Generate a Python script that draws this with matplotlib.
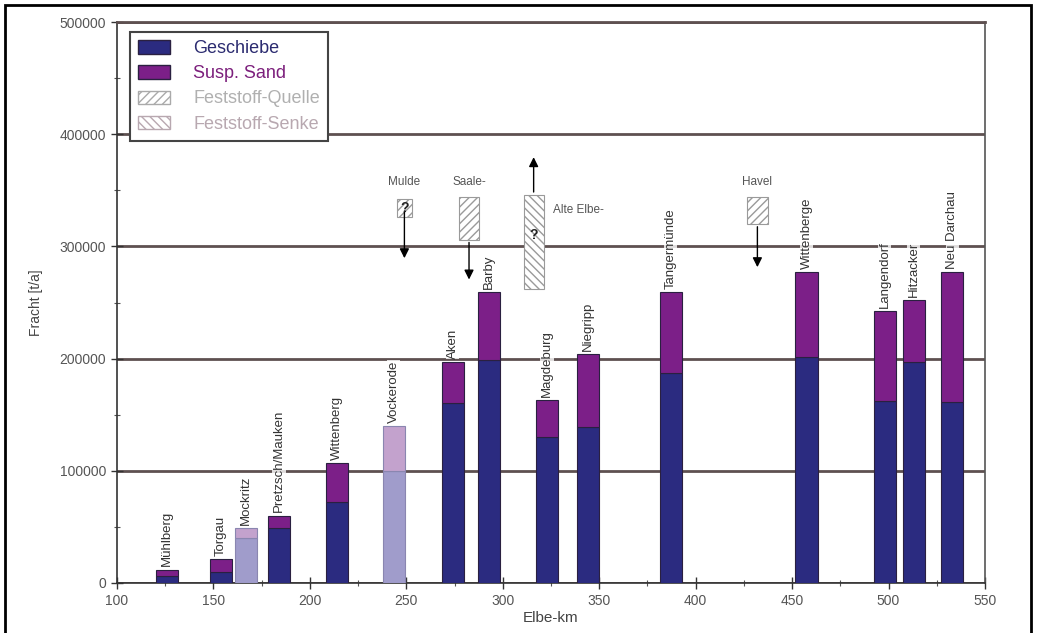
import matplotlib
matplotlib.use('Agg')
import matplotlib.pyplot as plt
from matplotlib.patches import Patch, Rectangle
from matplotlib.ticker import MultipleLocator
import numpy as np

plt.rcParams['font.family'] = ['Liberation Sans', 'DejaVu Sans']

# Messstellen entlang der Elbe
stations = ['Mühlberg', 'Torgau', 'Mockritz', 'Pretzsch/Mauken', 'Wittenberg', 'Vockerode',
            'Aken', 'Barby', 'Magdeburg', 'Niegripp', 'Tangermünde', 'Wittenberge',
            'Langendorf', 'Hitzacker', 'Neu Darchau']
elbe_km = [126, 154, 167, 184, 214, 243.5, 274, 293, 323, 344, 387, 457.5, 498, 513, 533]
geschiebe = [6000, 10000, 40000, 49000, 72000, 100000, 160000, 199000, 130000, 139000,
             187000, 201000, 162000, 197000, 161000]
susp_sand = [6000, 11000, 9000, 11000, 35000, 40000, 37000, 60000, 33000, 65000,
             72000, 76000, 80000, 55000, 116000]
# geschaetzte Werte (hell dargestellt)
geschaetzt = [False, False, True, False, False, True, False, False, False, False,
              False, False, False, False, False]

# Zufluesse / Abfluesse
trib_names = ['Mulde', 'Saale-', 'Alte Elbe-', 'Havel']
trib_km = [249, 282.5, 316, 432]
trib_lo = [326000, 306000, 262000, 320000]
trib_hi = [342000, 344000, 346000, 344000]
trib_arrow = [287000, 268000, 382000, 279000]
trib_quelle = [True, True, False, True]
trib_unsicher = [True, False, True, False]

C_GES = '#2b2b80'
C_SUS = '#7c1f88'
C_GES_EST = '#a09ccb'
C_SUS_EST = '#c3a2cd'
GRID = '#5e5050'
TXT = '#555555'

fig = plt.figure(figsize=(10.38, 6.33), dpi=100)
ax = fig.add_axes([117 / 1038, 50 / 633, 868 / 1038, 561 / 633])

x = np.array(elbe_km)
g = np.array(geschiebe)
s = np.array(susp_sand)
est = np.array(geschaetzt)
w = 11.5

for xi, gi, si, e in zip(x, g, s, est):
    cg = C_GES_EST if e else C_GES
    cs = C_SUS_EST if e else C_SUS
    ec = '#8a86b0' if e else '#2a2040'
    ax.bar(xi, gi, width=w, color=cg, edgecolor=ec, linewidth=0.8, zorder=3)
    ax.bar(xi, si, width=w, bottom=gi, color=cs, edgecolor=ec, linewidth=0.8, zorder=3)

# Stationsnamen ueber den Balken
for name, xi, top in zip(stations, x, g + s):
    ax.text(xi, top + 3000, name, rotation=90, ha='center', va='bottom',
            fontsize=9.5, color='#333333', zorder=4,
            bbox=dict(facecolor='white', edgecolor='none', pad=0.5, alpha=0.8))

# Zufluesse als schraffierte Kaesten mit Pfeilen
for name, xi, lo, hi, ae, q, u in zip(trib_names, trib_km, trib_lo, trib_hi,
                                      trib_arrow, trib_quelle, trib_unsicher):
    bw = 8 if name == 'Mulde' else 10.5
    ax.add_patch(Rectangle((xi - bw / 2, lo), bw, hi - lo, facecolor='white',
                           edgecolor='#9a9a9a', hatch='////' if q else '\\\\\\\\',
                           linewidth=0.8, zorder=4))
    if ae < lo:
        ax.annotate('', xy=(xi, ae), xytext=(xi, (lo + hi) / 2 if u and name == 'Mulde' else lo),
                    arrowprops=dict(arrowstyle='-|>', color='black', lw=1.0,
                                    mutation_scale=14), zorder=5)
    else:
        ax.annotate('', xy=(xi, ae), xytext=(xi, hi),
                    arrowprops=dict(arrowstyle='-|>', color='black', lw=1.0,
                                    mutation_scale=14), zorder=5)
    if u:
        qy = (lo + hi) / 2 if name == 'Mulde' else 310000
        ax.text(xi, qy, '?', ha='center', va='center', fontsize=10,
                fontweight='bold', color='#222222', zorder=6)
    if name == 'Alte Elbe-':
        ax.text(xi + 10, 332000, name, ha='left', va='center', fontsize=8.5,
                color=TXT, zorder=5)
    else:
        ax.text(xi, 357000, name, ha='center', va='center', fontsize=8.5,
                color=TXT, zorder=5)

ax.set_xlim(100, 550)
ax.set_ylim(0, 500000)
ax.xaxis.set_major_locator(MultipleLocator(50))
ax.xaxis.set_minor_locator(MultipleLocator(25))
ax.yaxis.set_major_locator(MultipleLocator(100000))
ax.yaxis.set_minor_locator(MultipleLocator(50000))
ax.tick_params(which='major', direction='inout', length=9, width=1.0, color='#333333',
               labelsize=10, labelcolor=TXT)
ax.tick_params(which='minor', direction='inout', length=5, width=0.8, color='#555555')
ax.set_yticks([0, 100000, 200000, 300000, 400000, 500000])
ax.grid(axis='y', which='major', color=GRID, linewidth=2.0, zorder=1)
ax.set_axisbelow(True)
for sp in ['left', 'bottom']:
    ax.spines[sp].set_color('#333333')
    ax.spines[sp].set_linewidth(1.2)
ax.spines['top'].set_color(GRID)
ax.spines['top'].set_linewidth(2.0)
ax.spines['right'].set_color('#555555')
ax.spines['right'].set_linewidth(1.2)

ax.set_xlabel('Elbe-km', fontsize=11, color='#444444', labelpad=2)
ax.set_ylabel('Fracht [t/a]', fontsize=10, color='#444444', labelpad=12)

handles = [Patch(facecolor=C_GES, edgecolor='#2a2040'),
           Patch(facecolor=C_SUS, edgecolor='#2a2040'),
           Patch(facecolor='white', edgecolor='#aaaaaa', hatch='////'),
           Patch(facecolor='white', edgecolor='#b8a8b0', hatch='\\\\\\\\')]
labels = ['Geschiebe', 'Susp. Sand', 'Feststoff-Quelle', 'Feststoff-Senke']
leg = ax.legend(handles, labels, loc='upper left', bbox_to_anchor=(0.015, 0.982),
                borderaxespad=0, fontsize=13, handlelength=1.75, handleheight=0.75,
                labelspacing=0.45, handletextpad=1.3, borderpad=0.45,
                fancybox=False, framealpha=1, edgecolor='#444444')
leg.get_frame().set_linewidth(1.5)
leg.set_zorder(10)
for t, c in zip(leg.get_texts(), ['#2b2b70', '#7c1f7c', '#b0b0b0', '#b8a8b0']):
    t.set_color(c)

# Rahmen um die ganze Abbildung
fig.add_artist(Rectangle((5 / 1038, -0.02), 1026 / 1038, 1.02 - 5 / 633,
                         transform=fig.transFigure, fill=False,
                         edgecolor='black', linewidth=2.0))

fig.savefig('out.png', dpi=100)
